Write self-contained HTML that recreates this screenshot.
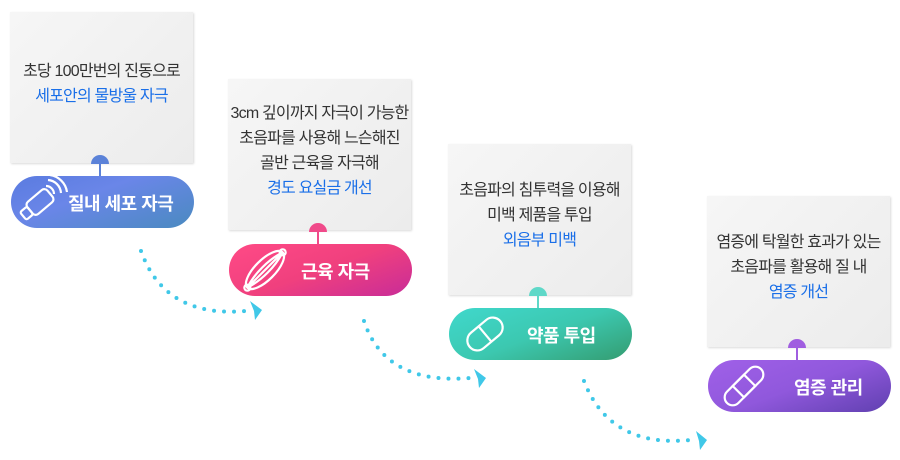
<!DOCTYPE html>
<html><head><meta charset="utf-8"><style>
body{margin:0;width:900px;height:460px;background:#fff;position:relative;overflow:hidden;font-family:"Liberation Sans","Noto Sans CJK KR",sans-serif}
.box{position:absolute;width:183px;height:151px;box-sizing:border-box;padding-bottom:8px;background:linear-gradient(135deg,#f6f6f6,#ececec);box-shadow:1px 1px 2px rgba(0,0,0,.15);display:flex;flex-direction:column;justify-content:center;align-items:center;text-align:center;font-size:16px;line-height:25px;color:#333;letter-spacing:-0.8px;white-space:nowrap}
.box .b{color:#1a6fe8}
.pill{position:absolute;width:183px;height:52px;border-radius:26px;color:#fff;font-weight:bold;font-size:18px;letter-spacing:-0.5px}
.pill span{position:absolute;top:14px}
.stem{position:absolute;width:2px;height:14px}
.cap{position:absolute;width:18px;height:9px;border-radius:9px 9px 0 0}
svg{position:absolute;left:0;top:0}
</style></head><body>
<div class="box" style="left:10px;top:12px"><div>초당 100만번의 진동으로</div><div class="b">세포안의 물방울 자극</div></div>
<div class="box" style="left:228px;top:79px"><div>3cm 깊이까지 자극이 가능한</div><div>초음파를 사용해 느슨해진</div><div>골반 근육을 자극해</div><div class="b">경도 요실금 개선</div></div>
<div class="box" style="left:448px;top:144px"><div>초음파의 침투력을 이용해</div><div>미백 제품을 투입</div><div class="b">외음부 미백</div></div>
<div class="box" style="left:707px;top:196px"><div>염증에 탁월한 효과가 있는</div><div>초음파를 활용해 질 내</div><div class="b">염증 개선</div></div>

<div class="cap" style="left:91px;top:155px;background:#5b82d8"></div><div class="stem" style="left:99px;top:163px;background:#5b82d8"></div>
<div class="cap" style="left:309px;top:223px;background:#f04a8a"></div><div class="stem" style="left:317px;top:231px;background:#f04a8a"></div>
<div class="cap" style="left:529px;top:287px;background:#5fd8c8"></div><div class="stem" style="left:537px;top:295px;background:#5fd8c8"></div>
<div class="cap" style="left:788px;top:339px;background:#a05ee0"></div><div class="stem" style="left:796px;top:347px;background:#a05ee0"></div>

<div class="pill" style="left:11px;top:176px;background:linear-gradient(160deg,#5a7be0 0%,#6a86e8 40%,#4a8ac0 100%)"><span style="left:57px">질내 세포 자극</span></div>
<div class="pill" style="left:229px;top:244px;background:linear-gradient(160deg,#ff4a86 0%,#f0407e 50%,#c82c98 100%)"><span style="left:72px">근육 자극</span></div>
<div class="pill" style="left:449px;top:308px;background:linear-gradient(160deg,#40d8cc 0%,#3cc8b0 50%,#349c70 100%)"><span style="left:78px">약품 투입</span></div>
<div class="pill" style="left:708px;top:360px;background:linear-gradient(160deg,#a060e8 0%,#9058dc 50%,#6040b0 100%)"><span style="left:86px">염증 관리</span></div>

<svg width="900" height="460" fill="none" stroke="#fff" stroke-width="2.2">
<g transform="translate(40,202) rotate(-40)"><rect x="-13" y="-8" width="26" height="16" rx="4"/><rect x="-22" y="-5" width="9" height="10" rx="2"/></g>
<path d="M46 186 a8 8 0 0 1 8 8 M48 180 a14 14 0 0 1 13 13 M50 175 a20 20 0 0 1 17 17"/>
<g transform="translate(265,270) rotate(-45)"><ellipse cx="0" cy="0" rx="25" ry="10"/><path d="M-25 0 C-10 -5 10 -5 25 0 M-25 0 C-10 5 10 5 25 0 M-25 0 L25 0"/><circle cx="-25" cy="0" r="3"/><circle cx="25" cy="0" r="3"/></g>
<g transform="translate(485,334) rotate(-40)"><rect x="-20" y="-10" width="40" height="20" rx="10"/><line x1="0" y1="-10" x2="0" y2="10"/></g>
<g transform="translate(744,386) rotate(-45)"><rect x="-24" y="-8" width="48" height="16" rx="8"/><rect x="-8" y="-8" width="16" height="16"/></g>
</svg>
<svg width="900" height="460" fill="none">
<g stroke="#40c8e8" stroke-width="4" stroke-linecap="round" stroke-dasharray="0 10">
<path d="M141 251 Q165 318 245 311"/>
<path d="M364 321 Q385 385 470 378"/>
<path d="M584 381 Q610 448 690 440"/>
</g>
<g fill="#40c8e8">
<path d="M250 301 L262 310 L255 320 L254 311 Z"/>
<path d="M474 369 L486 378 L479 388 L478 379 Z"/>
<path d="M696 431 L707 440 L700 450 L699 441 Z"/>
</g>
</svg>
</body></html>
